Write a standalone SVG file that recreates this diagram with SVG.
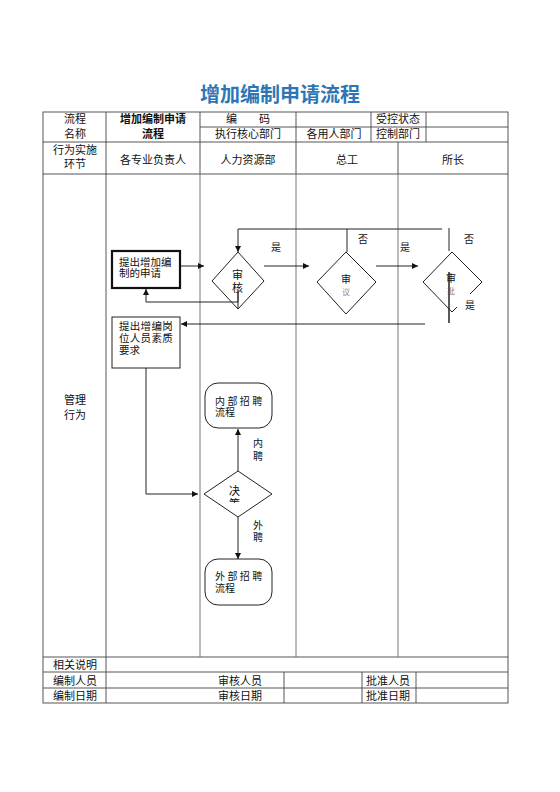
<svg xmlns="http://www.w3.org/2000/svg" width="560" height="792" viewBox="0 0 560 792">
<style>
text{font-family:"Liberation Sans","Noto Sans CJK SC",sans-serif;fill:#111;}
.t{font-size:11px;text-anchor:middle;}
.b{font-weight:bold;}
.s{font-size:10.5px;}
.l{font-size:10px;text-anchor:middle;}
.tbl{stroke:#444;stroke-width:0.9;fill:none;}
.lane{stroke:#777;stroke-width:1;fill:none;}
.shape{fill:#fff;stroke:#222;stroke-width:1;}
.con{fill:none;stroke:#222;stroke-width:1;}
.arr{marker-end:url(#ah);}
.faint{font-size:8px;fill:#888;text-anchor:middle;}
</style>
<defs>
<marker id="ah" viewBox="0 0 10 10" refX="10" refY="5" markerWidth="7" markerHeight="6" orient="auto" markerUnits="userSpaceOnUse">
<path d="M0,0 L10,5 L0,10 Z" fill="#111"/>
</marker>
<clipPath id="cc"><rect x="225" y="498" width="20" height="5"/></clipPath>
</defs>
<rect width="560" height="792" fill="#fff"/>
<text x="280" y="102" style="font-size:20px;font-weight:bold;fill:#2E75B6;text-anchor:middle;">增加编制申请流程</text>

<g id="table">
<rect class="tbl" x="43" y="112" width="465" height="591"/>
<path class="tbl" d="M200,127H508 M43,142H508 M43,174H508 M43,657H508 M43,672H508 M43,688H508"/>
<path class="tbl" d="M106,112V703 M371,112V142 M426,112V142 M284,672V703 M362,672V703 M416,672V703"/>
<path class="tbl" d="M200,112V174 M296,112V174 M398,142V174"/>
<path class="lane" d="M200,174V657 M296,174V657 M398,174V657"/>
<text class="t" x="75" y="123">流程</text>
<text class="t" x="75" y="138">名称</text>
<text class="t b" x="153" y="123">增加编制申请</text>
<text class="t b" x="153" y="138">流程</text>
<text class="t" x="248" y="123" xml:space="preserve">编　　码</text>
<text class="t" x="248" y="138">执行核心部门</text>
<text class="t" x="334" y="138">各用人部门</text>
<text class="t" x="398" y="123">受控状态</text>
<text class="t" x="398" y="138">控制部门</text>
<text class="t" x="75" y="154">行为实施</text>
<text class="t" x="75" y="168">环节</text>
<text class="t" x="153" y="164">各专业负责人</text>
<text class="t" x="248" y="164">人力资源部</text>
<text class="t" x="347" y="164">总工</text>
<text class="t" x="453" y="164">所长</text>
<text class="t" x="75" y="404">管理</text>
<text class="t" x="75" y="419">行为</text>
<text class="t" x="75" y="668.5">相关说明</text>
<text class="t" x="75" y="684.5">编制人员</text>
<text class="t" x="75" y="699.5">编制日期</text>
<text class="t" x="240" y="684.5">审核人员</text>
<text class="t" x="240" y="699.5">审核日期</text>
<text class="t" x="388" y="684.5">批准人员</text>
<text class="t" x="388" y="699.5">批准日期</text>
</g>

<g id="connectors">
<path class="con arr" d="M180,266H204"/>
<path class="con arr" d="M442,229H238V252"/>
<path class="con" d="M347,229V252"/>
<path class="con" d="M449,228V251"/>
<path class="con arr" d="M238,290V302H146V289"/>
<path class="con arr" d="M264,266H309"/>
<path class="con arr" d="M376,266H418"/>
<path class="con" d="M449,272V323"/>
<path class="con arr" d="M425,324H181"/>
<path class="con arr" d="M146,368V494H198"/>
<path class="con arr" d="M238,471V429"/>
<path class="con arr" d="M238,517V559"/>
<text class="l" x="276" y="251">是</text>
<text class="l" x="363" y="243">否</text>
<text class="l" x="405" y="251">是</text>
<text class="l" x="469" y="243">否</text>
<text class="l" x="470" y="309">是</text>
<text class="l" x="258" y="447">内</text>
<text class="l" x="258" y="460">聘</text>
<text class="l" x="258" y="529">外</text>
<text class="l" x="258" y="541">聘</text>
</g>

<g id="n1">
<rect x="112" y="251" width="68" height="37" fill="#fff" stroke="#111" stroke-width="2.2"/>
<text class="s" x="119" y="266">提出增加编</text>
<text class="s" x="119" y="277">制的申请</text>
</g>

<g id="n2">
<polygon class="shape" points="238,252 264,281 238,309 212,281" fill-opacity="0"/>
<path class="con" d="M238,292V309"/>
<text class="t" x="237.5" y="279">审</text>
<text class="t" x="237.5" y="292">核</text>
</g>

<g id="n3">
<polygon class="shape" points="346,252 376,282 346,314 317,282"/>
<text class="t" x="346" y="283" style="font-size:10px">审</text>
<text class="faint" x="346" y="295">议</text>
</g>

<g id="n4">
<path class="con" d="M470,294L482,282L452,252L423,282L452,312L457,307"/>
<text class="t" x="451" y="282" style="font-size:10px">审</text>
<text class="faint" x="451" y="294">批</text>
<path class="con" d="M449,272V323"/>
</g>

<g id="n5">
<rect x="112" y="317" width="68" height="51" class="shape"/>
<text class="s" x="119" y="330" letter-spacing="0.3">提出增编岗</text>
<text class="s" x="119" y="342" letter-spacing="0.3">位人员素质</text>
<text class="s" x="119" y="354">要求</text>
</g>

<g id="n6">
<rect x="205" y="383" width="67" height="45" rx="13" ry="13" class="shape"/>
<text class="s" x="215" y="405" letter-spacing="2.4" style="font-size:10px">内部招聘</text>
<text class="s" x="215" y="416" style="font-size:10px">流程</text>
</g>

<g id="n7">
<polygon class="shape" points="238,471 272,494 238,517 204,494"/>
<text class="t" x="234.5" y="494.5">决</text>
<text class="t" x="234.5" y="508" clip-path="url(#cc)">策</text>
</g>

<g id="n8">
<rect x="205" y="559" width="67" height="46" rx="13" ry="13" class="shape"/>
<text class="s" x="215" y="580" letter-spacing="2.4" style="font-size:10px">外部招聘</text>
<text class="s" x="215" y="592" style="font-size:10px">流程</text>
</g>
</svg>
